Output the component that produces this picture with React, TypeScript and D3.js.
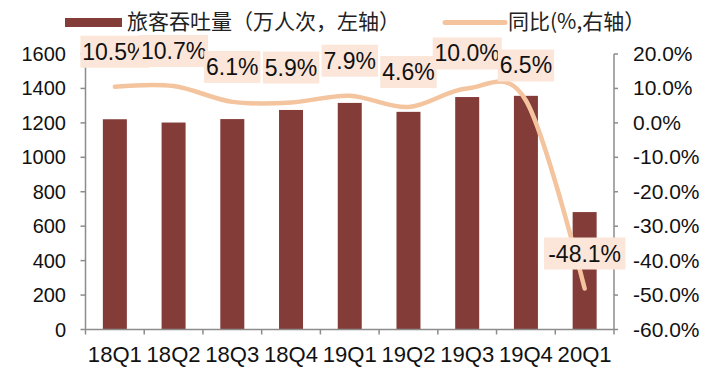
import React from "react";
import * as d3 from "d3";

const quarters = ["18Q1", "18Q2", "18Q3", "18Q4", "19Q1", "19Q2", "19Q3", "19Q4", "20Q1"];
const passengers = [1221, 1202, 1222, 1275, 1316, 1264, 1350, 1357, 682];
const yoy = [10.5, 10.7, 6.1, 5.9, 7.9, 4.6, 10.0, 6.5, -48.1];
const leftTicks = [0, 200, 400, 600, 800, 1000, 1200, 1400, 1600];
const rightTicks = [20, 10, 0, -10, -20, -30, -40, -50, -60];

const W = 720;
const H = 387;
const m = { left: 85.5, right: 614, top: 54, bottom: 329.5 };

const BAR = "#843c39";
const LINE = "#f3c49d";
const BOX = "#fbe6d9";
const AXIS = "#8c8c8c";
const LAT = "'Liberation Sans', Arial, sans-serif";
const CJK = "'Noto Sans CJK SC', 'Liberation Sans', sans-serif";

export default function App() {
  const x = d3.scaleBand().domain(quarters).range([m.left, m.right]);
  const yL = d3.scaleLinear().domain([0, 1600]).range([m.bottom, m.top]);
  const yR = d3.scaleLinear().domain([-60, 20]).range([m.bottom, m.top]);
  const cx = (q: string) => (x(q) as number) + x.bandwidth() / 2;

  const line = d3
    .line<number>()
    .x((_, i) => cx(quarters[i]))
    .y((d) => yR(d))
    .curve(d3.curveCardinal.tension(0));

  const fmt = (v: number) => v.toFixed(1) + "%";
  const labW = (s: string) => s.length * 12.6 + 6;

  return (
    <svg
      width={W}
      height={H}
      style={{ position: "absolute", left: 0, top: 0, background: "#fff" }}
    >
      {/* legend */}
      <rect x={65} y={18} width={57} height={9} fill={BAR} />
      <text x={127} y={29} fontFamily={CJK} fontSize={21} fill="#222">
        旅客吞吐量（万人次，左轴）
      </text>
      <line x1={445} x2={505} y1={22.5} y2={22.5} stroke={LINE} strokeWidth={5} strokeLinecap="round" />
      <text x={508} y={29} fontFamily={CJK} fontSize={21} fill="#222">
        同比(%,右轴）
      </text>

      {/* bars */}
      {passengers.map((v, i) => (
        <rect
          key={quarters[i]}
          x={cx(quarters[i]) - 12}
          y={yL(v)}
          width={24}
          height={m.bottom - yL(v)}
          fill={BAR}
        />
      ))}

      {/* left axis */}
      <line x1={m.left} x2={m.left} y1={m.top} y2={m.bottom} stroke={AXIS} strokeWidth={1.5} />
      {leftTicks.map((t) => (
        <g key={t}>
          <line x1={m.left - 5} x2={m.left} y1={yL(t)} y2={yL(t)} stroke={AXIS} strokeWidth={1.5} />
          <text x={66} y={yL(t) + 7} textAnchor="end" fontFamily={LAT} fontSize={20} fill="#111">
            {t}
          </text>
        </g>
      ))}

      {/* right axis */}
      <line x1={m.right} x2={m.right} y1={m.top} y2={m.bottom} stroke={AXIS} strokeWidth={1.5} />
      {rightTicks.map((t) => (
        <g key={t}>
          <line x1={m.right} x2={m.right + 4} y1={yR(t)} y2={yR(t)} stroke={AXIS} strokeWidth={1.5} />
          <text x={633} y={yR(t) + 7} fontFamily={LAT} fontSize={21} fill="#111">
            {fmt(t)}
          </text>
        </g>
      ))}

      {/* x axis */}
      <line x1={m.left} x2={m.right} y1={m.bottom} y2={m.bottom} stroke={AXIS} strokeWidth={1.5} />
      {quarters.map((q) => (
        <line
          key={q}
          x1={x(q) as number}
          x2={x(q) as number}
          y1={m.bottom}
          y2={m.bottom + 5}
          stroke={AXIS}
          strokeWidth={1.5}
        />
      ))}
      <line x1={m.right} x2={m.right} y1={m.bottom} y2={m.bottom + 5} stroke={AXIS} strokeWidth={1.5} />
      {quarters.map((q) => (
        <text
          key={q}
          x={cx(q)}
          y={362}
          textAnchor="middle"
          fontFamily={LAT}
          fontSize={22}
          textLength={54}
          lengthAdjust="spacingAndGlyphs"
          fill="#111"
        >
          {q}
        </text>
      ))}

      {/* yoy line */}
      <path d={line(yoy) || ""} fill="none" stroke={LINE} strokeWidth={4.5} strokeLinecap="round" />

      {/* data labels */}
      {yoy.map((v, i) => {
        const s = fmt(v);
        const w = labW(s);
        const c = cx(quarters[i]);
        const yc = yR(v) - 35;
        return (
          <g key={quarters[i]}>
            <rect x={c - w / 2} y={yc - 16} width={w} height={32} fill={BOX} />
            <text x={c} y={yc + 8} textAnchor="middle" fontFamily={LAT} fontSize={23} fill="#111">
              {s}
            </text>
          </g>
        );
      })}
    </svg>
  );
}
